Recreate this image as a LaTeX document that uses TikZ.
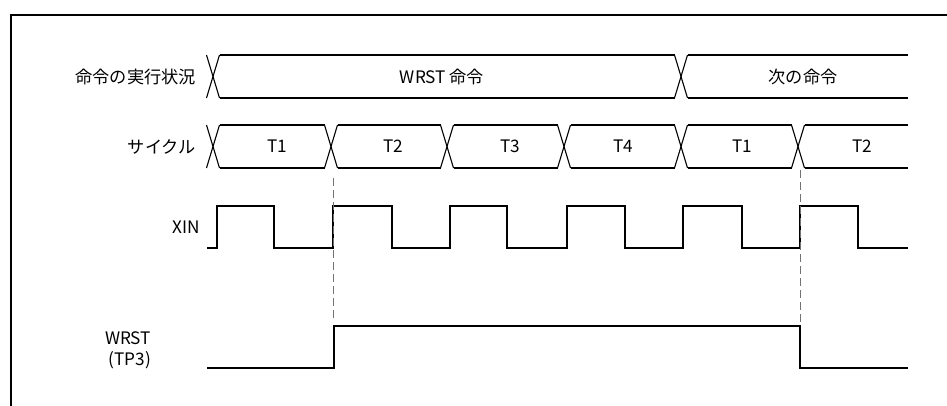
\documentclass[tikz,border=0pt]{standalone}
\usepackage{fontspec}
\setmainfont{Noto Sans CJK JP}
\begin{document}
\begin{tikzpicture}[x=1pt,y=-1pt,
  sig/.style={line width=1.1pt, black},
  frame/.style={line width=2pt, black},
  guide/.style={black!55, line width=1pt, dash pattern=on 8pt off 4pt},
  lab/.style={font=\fontsize{17.2}{20}\selectfont, inner sep=0pt},
]
\useasboundingbox (0,0) rectangle (947,405);
% frame
\draw[frame] (11,406) -- (11,15) -- (948,15);

% row 1: instruction bus
\foreach \c in {213,681} {
  \draw[sig] (\c-6.5,55) -- (\c+6.5,98);
  \draw[sig] (\c-6.5,98) -- (\c+6.5,55);
}
\foreach \a/\b in {219.5/674.5, 687.5/908} {
  \draw[sig] (\a,55) -- (\b,55);
  \draw[sig] (\a,98) -- (\b,98);
}
\node[lab, anchor=east] (l1) at (196,76.5) {命令の実行状況};
\node[lab] (i1) at (442,76.5) {WRST 命令};
\node[lab] (i2) at (803,76.5) {次の命令};

% row 2: cycle bus
\foreach \c in {213,331,447,564,681,798} {
  \draw[sig] (\c-6.5,125) -- (\c+6.5,168);
  \draw[sig] (\c-6.5,168) -- (\c+6.5,125);
}
\foreach \a/\b in {219.5/324.5, 337.5/440.5, 453.5/557.5, 570.5/674.5, 687.5/791.5, 804.5/908} {
  \draw[sig] (\a,125) -- (\b,125);
  \draw[sig] (\a,168) -- (\b,168);
}
\node[lab, anchor=east] (l2) at (196,146.5) {サイクル};
\node[lab] (c1) at (277,146.5) {T1};
\node[lab] (c2) at (393,146.5) {T2};
\node[lab] (c3) at (510,146.5) {T3};
\node[lab] (c4) at (623,146.5) {T4};
\node[lab] (c5) at (742,146.5) {T1};
\node[lab] (c6) at (862,146.5) {T2};

% XIN
\node[lab, anchor=east] (l3) at (200,227) {XIN};
\draw[sig] (207,248) -- (217,248) -- (217,206) -- (274,206) -- (274,248)
  -- (333,248) -- (333,206) -- (392,206) -- (392,248)
  -- (450,248) -- (450,206) -- (507,206) -- (507,248)
  -- (567,248) -- (567,206) -- (625,206) -- (625,248)
  -- (683,248) -- (683,206) -- (742,206) -- (742,248)
  -- (800,248) -- (800,206) -- (858,206) -- (858,248) -- (908,248);

% WRST
\node[lab] (l4) at (128,338) {WRST};
\node[lab] (l5) at (130,360) {(TP3)};
\draw[sig] (207,368) -- (334,368) -- (334,326) -- (800,326) -- (800,368) -- (908,368);

% guides
\coordinate (g1a) at (333,178);
\coordinate (g1b) at (333,322);
\coordinate (g2a) at (800,170);
\coordinate (g2b) at (800,322);
\draw[guide] (g1a) -- (g1b);
\draw[guide] (g2a) -- (g2b);
\end{tikzpicture}
\end{document}
